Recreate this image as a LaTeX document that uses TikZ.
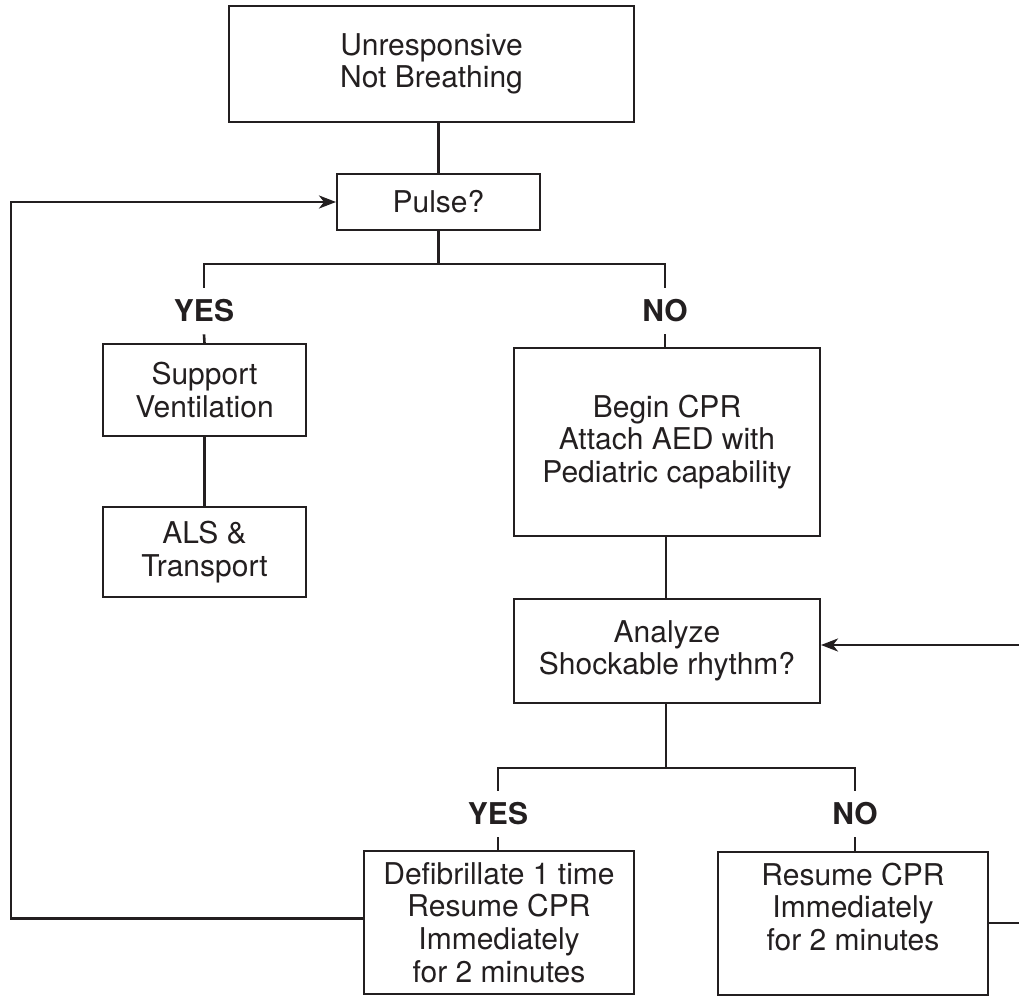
\documentclass[tikz,border=0pt]{standalone}
\usepackage{fontspec}
\setmainfont{TeX Gyre Heros}
\usetikzlibrary{arrows.meta,calc}
\definecolor{ink}{HTML}{231F20}
\begin{document}
\begin{tikzpicture}[x=0.5pt,y=-0.5pt,
  box/.style={draw=ink,line width=1pt,inner sep=0pt,align=center,text=ink,
    font=\fontsize{15}{16.3}\selectfont},
  lbl/.style={inner sep=0pt,minimum height=23pt,text=ink,
    font=\fontsize{15}{16}\selectfont\bfseries},
  conn/.style={draw=ink,line width=1.3pt},
  arr/.style={conn,-{Stealth[length=8.5pt,width=6.5pt,inset=2.5pt]}}]
\useasboundingbox (0,0) rectangle (1019,996);
% nodes
\node[box,minimum width=202.5pt,minimum height=58pt] (top) at (431.5,64) {Unresponsive\\Not Breathing};
\node[box,minimum width=101.5pt,minimum height=28pt] (pulse) at (438.5,202) {Pulse?};
\node[lbl] (yes1) at (204,311) {YES};
\node[lbl] (no1) at (665,311) {NO};
\node[box,minimum width=101.5pt,minimum height=46pt] (support) at (204.5,390) {Support\\Ventilation};
\node[box,minimum width=101.5pt,minimum height=45pt] (als) at (204.5,552) {ALS \&\\Transport};
\node[box,minimum width=153pt,minimum height=94pt] (begin) at (667,442) {Begin CPR\\Attach AED with\\Pediatric capability};
\node[box,minimum width=153pt,minimum height=52pt] (analyze) at (667,651) {Analyze\\Shockable rhythm?};
\node[lbl] (yes2) at (498,814) {YES};
\node[lbl] (no2) at (855,814) {NO};
\node[box,minimum width=135pt,minimum height=71.5pt] (defib) at (499,922.5) {Defibrillate 1 time\\Resume CPR\\Immediately\\for 2 minutes};
\node[box,minimum width=135pt,minimum height=71.5pt] (resume) at (853,923) {Resume CPR\\Immediately\\for 2 minutes\\\mbox{}};
% junction and off-page coordinates
\coordinate (j1) at (438.5,264);
\coordinate (j2) at (666,768);
\coordinate (lx) at (11,0);
\coordinate (rx) at (1030,0);
\coordinate (ain) at ([yshift=3pt]analyze.east);
% connectors
\draw[conn] (pulse.north) -- (pulse.north |- top.south);
\draw[conn] (pulse.south) -- (j1);
\draw[conn] (yes1.north) -- (yes1.north |- j1) -| (no1.north);
\draw[conn] (yes1.south) -- (support.north);
\draw[conn] (support.south) -- (als.north);
\draw[conn] (no1.south) -- (no1.south |- begin.north);
\draw[conn] (begin.south -| j2) -- (analyze.north -| j2);
\draw[conn] (analyze.south -| j2) -- (j2);
\draw[conn] (yes2.north) -- (yes2.north |- j2) -| (no2.north);
\draw[conn] (yes2.south) -- (yes2.south |- defib.north);
\draw[conn] (no2.south) -- (no2.south |- resume.north);
\draw[arr] ([yshift=2pt]defib.west) -| (lx |- pulse.west) -- (pulse.west);
\draw[arr] (resume.east) -| (rx |- ain) -- (ain);
\end{tikzpicture}
\end{document}
